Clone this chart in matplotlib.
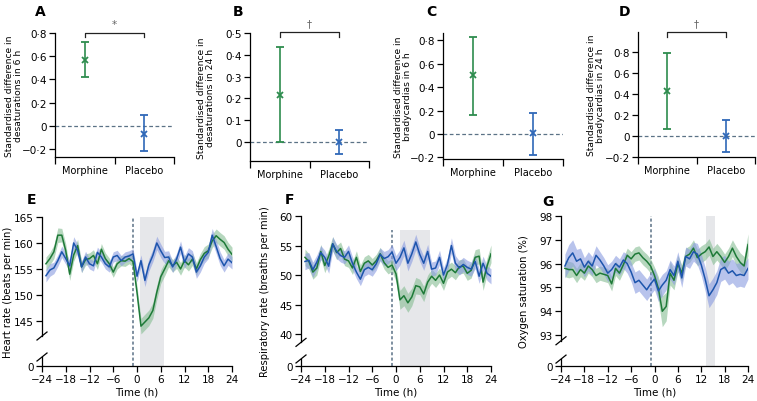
import numpy as np
import matplotlib
matplotlib.use("Agg")
import matplotlib.pyplot as plt
from matplotlib.ticker import FuncFormatter

plt.rcParams['font.family'] = ['Liberation Sans Narrow', 'DejaVu Sans']
plt.rcParams['font.size'] = 7
plt.rcParams['axes.linewidth'] = 0.9
plt.rcParams['xtick.major.width'] = 0.9
plt.rcParams['ytick.major.width'] = 0.9

GREEN = '#1e7a38'
GREEN_BAR = '#2e8c4e'
GREEN_FILL = '#86bd93'
BLUE = '#1d55ad'
BLUE_BAR = '#2f68b8'
BLUE_FILL = '#8a9be0'
SHADE = '#e6e7ea'
DASH = '#5b7286'

# ---- top panels (standardised differences) ----
groups = ['Morphine', 'Placebo']
desat6_mean = [0.57, -0.07]
desat6_low = [0.42, -0.22]
desat6_high = [0.72, 0.09]
desat24_mean = [0.215, 0.0]
desat24_low = [0.0, -0.055]
desat24_high = [0.435, 0.055]
brady6_mean = [0.50, 0.005]
brady6_low = [0.16, -0.18]
brady6_high = [0.83, 0.18]
brady24_mean = [0.43, 0.0]
brady24_low = [0.065, -0.155]
brady24_high = [0.79, 0.155]

# ---- bottom panels (hourly means and CI half widths) ----
hours = list(range(-23, 25))

hr_morphine = [156.0, 157.0, 158.3, 161.5, 161.5, 158.5, 154.0, 157.7,
               159.5, 155.4, 156.8, 157.0, 157.6, 156.0, 158.8, 157.0,
               156.0, 154.4, 156.0, 156.6, 156.5, 157.0, 156.4, 150.5,
               144.0, 144.8, 145.6, 147.0, 150.5, 153.5, 155.0, 156.6,
               155.6, 156.3, 155.0, 156.6, 155.8, 156.9, 155.0, 156.8,
               158.0, 158.5, 160.4, 161.4, 160.7, 160.1, 158.8, 157.8]
hr_placebo = [153.7, 154.8, 155.2, 156.6, 158.3, 157.0, 155.6, 160.0,
              158.6, 155.4, 157.3, 156.0, 155.6, 158.2, 157.3, 156.0,
              155.4, 157.3, 157.6, 156.6, 157.3, 157.5, 157.9, 153.6,
              156.6, 152.8, 155.8, 157.6, 160.0, 158.5, 157.2, 157.3,
              155.4, 156.9, 159.2, 156.3, 157.9, 157.3, 154.4, 155.6,
              157.3, 158.2, 161.5, 159.3, 157.0, 155.6, 156.9, 156.2]
hr_morphine_ci = [1.3, 1.2, 1.3, 1.4, 1.3, 1.3, 1.2, 1.2,
                  1.2, 1.1, 1.1, 1.1, 1.1, 1.1, 1.1, 1.1,
                  1.1, 1.0, 1.0, 1.0, 1.0, 1.0, 1.0, 1.2,
                  1.5, 1.5, 1.5, 1.5, 1.4, 1.3, 1.3, 1.2,
                  1.2, 1.2, 1.2, 1.2, 1.2, 1.2, 1.2, 1.2,
                  1.3, 1.3, 1.3, 1.3, 1.3, 1.3, 1.3, 1.4]
hr_placebo_ci = [1.2, 1.2, 1.1, 1.1, 1.1, 1.1, 1.1, 1.2,
                 1.2, 1.1, 1.1, 1.0, 1.0, 1.0, 1.0, 1.0,
                 1.0, 1.0, 1.0, 1.0, 1.0, 1.0, 1.0, 1.1,
                 1.1, 1.2, 1.2, 1.2, 1.3, 1.3, 1.2, 1.2,
                 1.1, 1.1, 1.2, 1.2, 1.2, 1.2, 1.2, 1.2,
                 1.2, 1.2, 1.3, 1.3, 1.3, 1.2, 1.2, 1.2]

rr_morphine = [53.0, 52.3, 50.5, 51.2, 54.0, 51.6, 53.2, 55.3,
               53.8, 54.5, 52.7, 52.4, 51.2, 53.0, 50.6, 52.0,
               52.4, 51.7, 52.4, 53.6, 52.1, 51.3, 51.7, 50.2,
               45.8, 46.5, 45.3, 46.3, 48.2, 48.0, 46.8, 48.8,
               49.8, 49.1, 50.0, 48.6, 50.5, 51.0, 50.4, 51.4,
               51.5, 50.3, 50.8, 53.0, 53.2, 48.8, 51.5, 53.6]
rr_placebo = [52.3, 52.5, 50.9, 52.2, 53.8, 53.0, 51.5, 55.3,
              54.0, 53.3, 53.0, 54.0, 52.0, 50.5, 49.3, 50.9,
              51.3, 50.9, 51.9, 53.5, 52.8, 53.1, 53.9, 52.0,
              53.0, 54.6, 52.0, 53.6, 55.6, 53.5, 52.0, 54.0,
              51.0, 51.2, 53.0, 50.0, 51.8, 55.0, 52.0, 51.2,
              51.8, 51.3, 51.0, 52.3, 49.8, 52.0, 50.3, 49.8]
rr_morphine_ci = [1.4, 1.3, 1.2, 1.2, 1.2, 1.2, 1.2, 1.2,
                  1.2, 1.1, 1.1, 1.1, 1.1, 1.1, 1.1, 1.1,
                  1.1, 1.1, 1.1, 1.1, 1.1, 1.1, 1.1, 1.3,
                  1.6, 1.7, 1.6, 1.5, 1.4, 1.3, 1.3, 1.2,
                  1.2, 1.2, 1.2, 1.2, 1.2, 1.2, 1.2, 1.2,
                  1.2, 1.2, 1.3, 1.3, 1.3, 1.4, 1.4, 1.5]
rr_placebo_ci = [1.4, 1.3, 1.3, 1.2, 1.2, 1.2, 1.2, 1.2,
                 1.2, 1.1, 1.1, 1.1, 1.1, 1.1, 1.1, 1.1,
                 1.1, 1.1, 1.1, 1.1, 1.2, 1.2, 1.3, 1.3,
                 1.3, 1.3, 1.3, 1.3, 1.3, 1.2, 1.2, 1.2,
                 1.2, 1.2, 1.2, 1.2, 1.2, 1.3, 1.3, 1.2,
                 1.2, 1.2, 1.2, 1.2, 1.2, 1.2, 1.2, 1.3]

spo2_morphine = [95.8, 95.75, 95.75, 95.5, 95.75, 95.6, 95.9, 95.75,
                 95.5, 95.6, 95.55, 95.5, 95.15, 95.8, 95.6, 95.95,
                 96.35, 96.2, 96.4, 96.45, 96.25, 96.1, 95.9, 95.5,
                 94.95, 94.0, 94.2, 95.6, 95.3, 96.0, 95.6, 96.3,
                 96.4, 96.65, 96.25, 96.4, 96.5, 96.7, 96.3, 96.5,
                 96.3, 96.05, 96.3, 96.65, 96.3, 96.05, 95.9, 96.8]
spo2_placebo = [95.9, 96.25, 96.45, 96.1, 96.2, 95.85, 96.1, 95.9,
                96.35, 96.15, 95.9, 95.6, 95.75, 96.0, 95.85, 96.15,
                96.0, 95.65, 95.2, 95.3, 95.1, 94.9, 95.15, 95.35,
                94.85, 95.1, 95.3, 95.75, 95.5, 96.1, 95.4, 96.3,
                96.2, 96.5, 96.4, 95.95, 95.35, 94.65, 94.9, 95.2,
                95.75, 95.85, 95.6, 95.7, 95.5, 95.55, 95.5, 95.8]
spo2_morphine_ci = [0.35, 0.35, 0.3, 0.3, 0.3, 0.3, 0.3, 0.3,
                    0.3, 0.3, 0.3, 0.3, 0.3, 0.3, 0.3, 0.3,
                    0.3, 0.3, 0.3, 0.3, 0.3, 0.3, 0.3, 0.35,
                    0.5, 0.65, 0.6, 0.5, 0.4, 0.35, 0.35, 0.35,
                    0.35, 0.35, 0.35, 0.35, 0.35, 0.35, 0.35, 0.35,
                    0.35, 0.35, 0.35, 0.35, 0.4, 0.4, 0.4, 0.45]
spo2_placebo_ci = [0.5, 0.55, 0.55, 0.5, 0.45, 0.4, 0.4, 0.4,
                   0.4, 0.35, 0.35, 0.35, 0.35, 0.35, 0.35, 0.35,
                   0.4, 0.4, 0.45, 0.45, 0.45, 0.45, 0.45, 0.45,
                   0.45, 0.45, 0.4, 0.4, 0.4, 0.4, 0.4, 0.4,
                   0.4, 0.4, 0.45, 0.45, 0.5, 0.5, 0.5, 0.5,
                   0.5, 0.5, 0.5, 0.5, 0.5, 0.5, 0.5, 0.45]

W, H = 757, 402
fig = plt.figure(figsize=(W / 100, H / 100), dpi=100)


def px_axes(l, t, r, b):
    return fig.add_axes([l / W, 1 - b / H, (r - l) / W, (b - t) / H])


def dot_fmt(v, pos):
    if abs(v) < 1e-9:
        return '0'
    s = f'{abs(v):.1f}'.replace('.', '\u00b7')
    return ('\u2212' if v < 0 else '') + s


def top_panel(box, mean, low, high, ylim, yticks, ylabel, label_x, letter, letter_x, sig=None):
    ax = px_axes(*box)
    for sp in ['top', 'right']:
        ax.spines[sp].set_visible(False)
    ax.set_xlim(0, 2)
    ax.set_ylim(*ylim)
    ax.axhline(0, color=DASH, lw=0.9, ls=(0, (3, 2)), zorder=1)
    xs = [0.5, 1.5]
    cols = [GREEN_BAR, BLUE_BAR]
    for i in range(2):
        ax.errorbar(xs[i], mean[i], yerr=[[mean[i] - low[i]], [high[i] - mean[i]]],
                    fmt='x', color=cols[i], ms=5, mew=1.3, elinewidth=1.2,
                    capsize=3, capthick=1.2, zorder=3)
    ax.set_xticks([0, 1, 2])
    ax.set_xticklabels([])
    ax.set_xticks(xs, minor=True)
    ax.set_xticklabels(groups, minor=True)
    ax.tick_params(axis='x', which='minor', length=0, pad=6)
    ax.tick_params(axis='x', which='major', length=5)
    ax.set_yticks(yticks)
    ax.yaxis.set_major_formatter(FuncFormatter(dot_fmt))
    ax.tick_params(axis='y', length=4, pad=2)
    ax.tick_params(labelsize=7.5)
    ax.set_ylabel(ylabel, fontsize=6.6, linespacing=1.0)
    ax.yaxis.set_label_coords(label_x, 0.5)
    if sig is not None:
        sym, ytop, ytick = sig
        ax.plot([0.5, 0.5, 1.5, 1.5], [ytick, ytop, ytop, ytick], color='#222222',
                lw=0.9, clip_on=False)
        ax.annotate(sym, (1.0, ytop), xytext=(0, 3), textcoords='offset points',
                    ha='center', va='bottom', color='#666666', fontsize=7.5,
                    annotation_clip=False)
    fig.text(letter_x / W, 1 - 12 / H, letter, ha='center', va='center',
             fontsize=10, fontweight='bold')
    return ax


top_panel((55, 34, 174, 158), desat6_mean, desat6_low, desat6_high, (-0.27, 0.8),
          [-0.2, 0, 0.2, 0.4, 0.6, 0.8],
          'Standardised difference in\ndesaturations in 6 h', -0.27, 'A', 40,
          ('*', 0.8, 0.765))
top_panel((250, 34, 369, 162), desat24_mean, desat24_low, desat24_high, (-0.087, 0.5),
          [0, 0.1, 0.2, 0.3, 0.4, 0.5],
          'Standardised difference in\ndesaturations in 24 h', -0.298, 'B', 238,
          ('\u2020', 0.503, 0.48))
top_panel((443, 34, 563, 160), brady6_mean, brady6_low, brady6_high, (-0.213, 0.86),
          [-0.2, 0, 0.2, 0.4, 0.6, 0.8],
          'Standardised difference in\nbradycardias in 6 h', -0.262, 'C', 431)
top_panel((638, 33, 755, 158), brady24_mean, brady24_low, brady24_high, (-0.2, 0.99),
          [-0.2, 0, 0.2, 0.4, 0.6, 0.8],
          'Standardised difference in\nbradycardias in 24 h', -0.286, 'D', 624,
          ('\u2020', 0.99, 0.94))


def broken_scale(lo, gap):
    def fwd(y):
        y = np.asarray(y, dtype=float)
        return np.where(y >= lo, y - lo + gap, y * gap / lo)

    def inv(u):
        u = np.asarray(u, dtype=float)
        return np.where(u >= gap, u - gap + lo, u * lo / gap)
    return fwd, inv


def time_panel(box, morph, morph_ci, plac, plac_ci, top, yticks, lo, gap, low_u,
               shade, shade_top, ylabel, label_x, letter, letter_xy):
    ax = px_axes(*box)
    fwd, inv = broken_scale(lo, gap)
    ax.set_yscale('function', functions=(fwd, inv))
    ax.set_ylim(0, top)
    ax.set_xlim(-24, 24)
    for sp in ['top', 'right', 'left']:
        ax.spines[sp].set_visible(False)

    ax.fill_between(shade, [0, 0], [shade_top, shade_top], color=SHADE, lw=0, zorder=0)
    ax.plot([-1, -1], [0, shade_top], color=DASH, lw=1.1, ls=(0, (2, 1.5)), zorder=1)

    t = np.array(hours)
    m, mc = np.array(morph), np.array(morph_ci)
    p, pc = np.array(plac), np.array(plac_ci)
    ax.fill_between(t, m - mc, m + mc, color=GREEN_FILL, alpha=0.6, lw=0, zorder=2)
    ax.fill_between(t, p - pc, p + pc, color=BLUE_FILL, alpha=0.6, lw=0, zorder=2)
    ax.plot(t, m, color=GREEN, lw=1.1, zorder=3)
    ax.plot(t, p, color=BLUE, lw=1.1, zorder=4)

    ax.set_xticks(range(-24, 25, 6))
    ax.set_xticklabels([str(v).replace('-', '\u2212') for v in range(-24, 25, 6)])
    ax.set_yticks([0] + yticks)
    ax.set_yticklabels(['0'] + [str(v) for v in yticks])
    ax.yaxis.set_minor_locator(matplotlib.ticker.NullLocator())
    ax.tick_params(length=4, pad=2, labelsize=7.5)
    ax.set_xlabel('Time (h)', fontsize=7.5)
    ax.xaxis.set_label_coords(0.5, -0.14)
    ax.set_ylabel(ylabel, fontsize=7.2)
    ax.yaxis.set_label_coords(label_x, 0.5)

    # broken left spine with / marks
    u_top = float(fwd(top))
    f_hi = gap / u_top
    f_lo = low_u / u_top
    axw = box[2] - box[0]
    axh = box[3] - box[1]
    ax.plot([0, 0], [f_hi, 1], transform=ax.transAxes, color='k', lw=0.9, clip_on=False)
    ax.plot([0, 0], [0, f_lo], transform=ax.transAxes, color='k', lw=0.9, clip_on=False)
    dx, dy = 5 / axw, 4 / axh
    for f in (f_hi, f_lo):
        ax.plot([-dx, dx], [f - dy, f + dy], transform=ax.transAxes, color='k',
                lw=0.9, clip_on=False)
    fig.text(letter_xy[0] / W, 1 - letter_xy[1] / H, letter, ha='center', va='center',
             fontsize=10, fontweight='bold')
    return ax


time_panel((42, 218, 232, 367), hr_morphine, hr_morphine_ci, hr_placebo, hr_placebo_ci,
           165, [145, 150, 155, 160, 165], 142.1, 5.77, 1.73, [0.7, 6.8], 165,
           'Heart rate (beats per min)', -0.153, 'E', (31, 200))
time_panel((301, 217, 491, 367), rr_morphine, rr_morphine_ci, rr_placebo, rr_placebo_ci,
           60, [40, 45, 50, 55, 60], 38.6, 4.0, 1.19, [1.0, 8.6], 57.7,
           'Respiratory rate (breaths per min)', -0.163, 'F', (290, 200))
time_panel((561, 217, 748, 367), spo2_morphine, spo2_morphine_ci, spo2_placebo,
           spo2_placebo_ci, 98, [93, 94, 95, 96, 97, 98], 92.76, 1.06, 0.29,
           [13.2, 15.5], 98, 'Oxygen saturation (%)', -0.171, 'G', (548, 202))

fig.savefig('out.png', dpi=100)
